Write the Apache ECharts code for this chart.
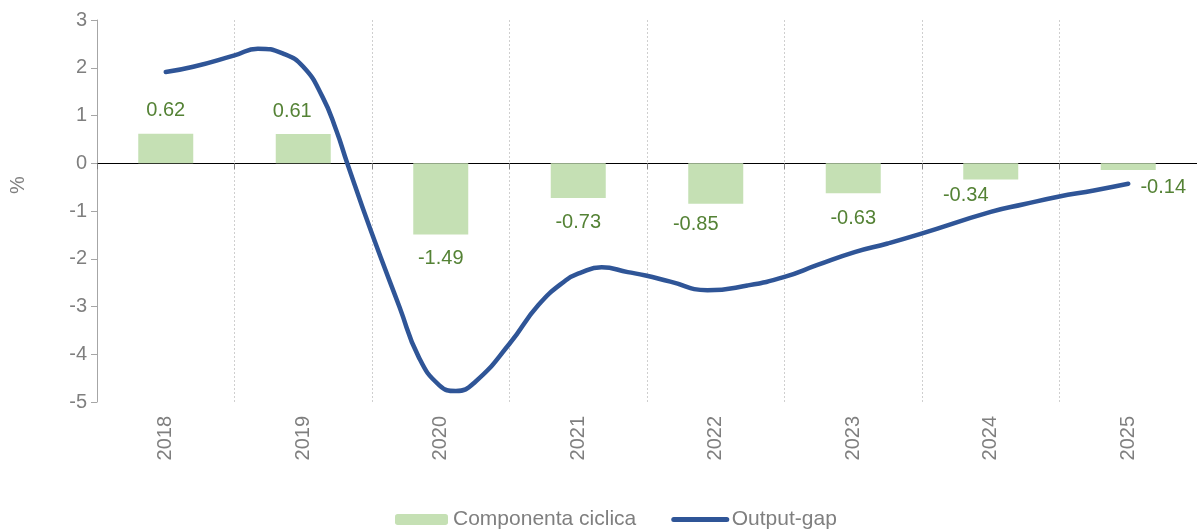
<!DOCTYPE html>
<html>
<head>
    <meta charset="utf-8">
    <title>Output-gap</title>
    <script src="https://cdn.jsdelivr.net/npm/echarts@6/dist/echarts.min.js"></script>
</head>
<body style="margin:0">
    <div id="main" style="width:1197px;height:531px;"></div>
    <script type="text/javascript">
        // dati
        var years = ['2018', '2019', '2020', '2021', '2022', '2023', '2024', '2025'];
        var ciclica = [0.62, 0.61, -1.49, -0.73, -0.85, -0.63, -0.34, -0.14];
        // output-gap (posizione in anni, valore)
        var gapTime = [2018.00, 2018.20, 2018.50, 2018.67, 2018.85, 2019.00, 2019.14, 2019.24, 2019.32,
            2019.49, 2019.70, 2019.84, 2019.99, 2020.11, 2020.25, 2020.50, 2020.71, 2020.91,
            2021.01, 2021.17, 2021.36, 2021.49, 2021.67, 2021.94, 2022.23, 2022.50, 2022.74,
            2023.01, 2023.25, 2023.49, 2024.00, 2024.24, 2024.49, 2024.75, 2025.00];
        var gapValue = [1.91, 2.02, 2.26, 2.40, 2.30, 2.02, 1.39, 0.69, 0.00,
            -1.40, -3.01, -4.06, -4.65, -4.77, -4.58, -3.78, -2.97, -2.45,
            -2.30, -2.18, -2.28, -2.35, -2.48, -2.66, -2.56, -2.38, -2.13,
            -1.86, -1.68, -1.48, -1.02, -0.86, -0.70, -0.57, -0.43];

        // spostamento etichette (come nel grafico originale)
        var labelShift = [[0, 1], [-11, 1], [0, 0], [0, 0], [-20, -3], [0, 1], [-25, -8], [35, -6]];

        var font = "'Liberation Sans', Arial, sans-serif";
        var grey = '#7f7f7f';

        var myChart = echarts.init(document.getElementById('main'));

        var barData = ciclica.map(function (v, i) {
            return {
                value: v,
                label: {
                    position: v >= 0 ? 'top' : 'bottom',
                    offset: labelShift[i]
                }
            };
        });
        var lineData = gapTime.map(function (t, i) {
            return [t, gapValue[i]];
        });

        var option = {
            animation: false,
            textStyle: { fontFamily: font },
            grid: { left: 97, right: -3, top: 20, bottom: 129 },
            legend: {
                left: 390,
                top: 504,
                itemWidth: 53,
                itemHeight: 11,
                itemGap: 35,
                textStyle: { fontSize: 21, color: grey, fontFamily: font },
                data: [
                    { name: 'Componenta ciclica' },
                    {
                        name: 'Output-gap',
                        itemStyle: { color: 'rgba(0,0,0,0)', borderWidth: 0, opacity: 0 },
                        lineStyle: { width: 5, cap: 'round', color: '#2f5597' }
                    }
                ]
            },
            graphic: [{
                type: 'text',
                x: 18,
                y: 185,
                rotation: Math.PI / 2,
                style: {
                    text: '%',
                    align: 'center',
                    verticalAlign: 'middle',
                    fill: grey,
                    font: '20px ' + font
                }
            }],
            xAxis: [{
                type: 'category',
                data: years,
                position: 'bottom',
                axisLine: { show: false, onZero: false },
                axisTick: { show: false },
                axisLabel: { rotate: 90, margin: 14, fontSize: 20, color: grey, fontFamily: font },
                splitLine: { show: true, lineStyle: { color: '#cfcfcf', type: [2, 2], width: 1 } }
            }, {
                type: 'category',
                data: years,
                position: 'top',
                axisLine: { show: true, onZero: true, lineStyle: { color: '#000', width: 1 } },
                axisTick: { show: true, inside: true, length: 6, lineStyle: { color: '#808080' } },
                axisLabel: { show: false },
                splitLine: { show: false }
            }, {
                type: 'value',
                min: 2017.5,
                max: 2025.5,
                show: false
            }],
            yAxis: {
                type: 'value',
                min: -5,
                max: 3,
                interval: 1,
                axisLine: { show: true, lineStyle: { color: '#a6a6a6' } },
                axisTick: { show: true, length: 6, lineStyle: { color: '#a6a6a6' } },
                axisLabel: { fontSize: 20, color: grey, margin: 10, fontFamily: font },
                splitLine: { show: false }
            },
            series: [{
                name: 'Componenta ciclica',
                type: 'bar',
                xAxisIndex: 0,
                barWidth: 55,
                itemStyle: { color: '#c5e0b4' },
                label: {
                    show: true,
                    distance: 14,
                    fontSize: 20,
                    color: '#548235',
                    fontFamily: font
                },
                data: barData
            }, {
                name: 'Output-gap',
                type: 'line',
                xAxisIndex: 2,
                smooth: 0.5,
                symbol: 'none',
                z: 5,
                lineStyle: { color: '#2f5597', width: 4.5, cap: 'round', join: 'round' },
                itemStyle: { color: '#2f5597' },
                data: lineData
            }]
        };

        myChart.setOption(option);
    </script>
</body>
</html>
